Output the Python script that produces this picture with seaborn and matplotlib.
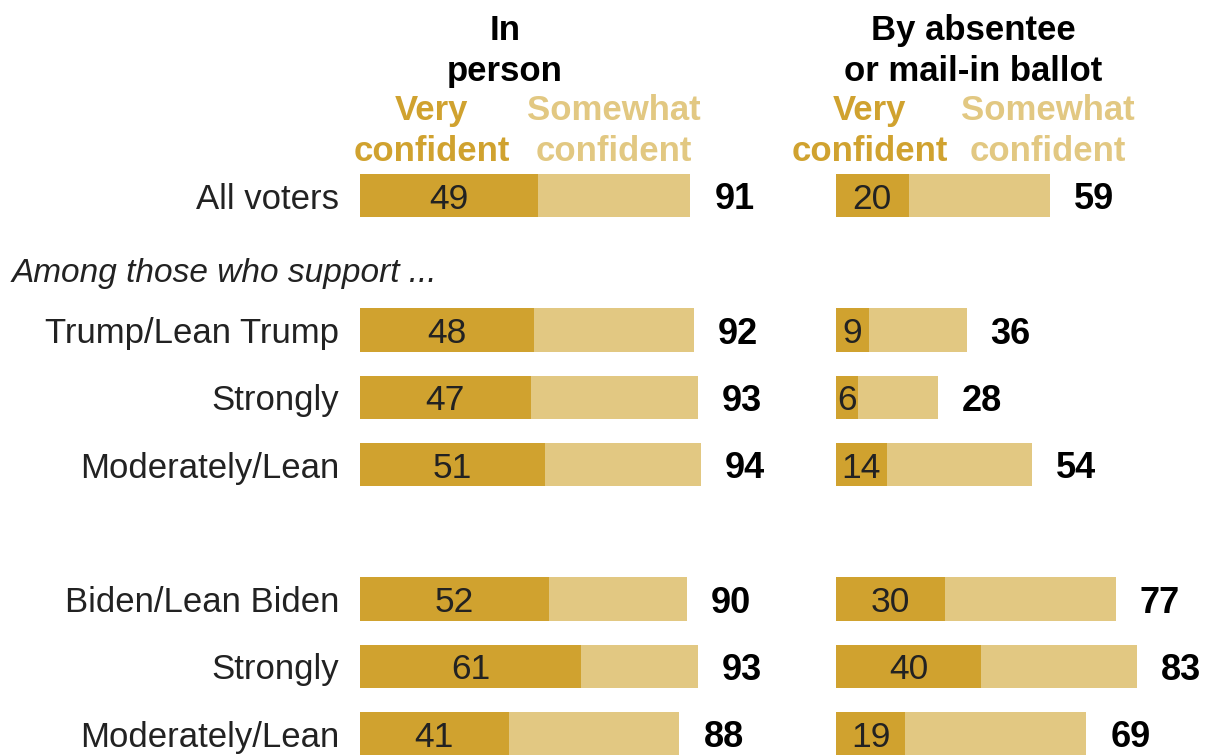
import matplotlib
matplotlib.use("Agg")
import matplotlib.pyplot as plt
import seaborn as sns
import pandas as pd
import numpy as np

# lignes du graphique (les lignes vides servent d'espacement)
rows = ["All voters", "_header", "Trump/Lean Trump", "Strongly (T)", "Moderately/Lean (T)",
        "_gap", "Biden/Lean Biden", "Strongly (B)", "Moderately/Lean (B)"]
row_labels = ["All voters", "", "Trump/Lean Trump", "Strongly", "Moderately/Lean",
              "", "Biden/Lean Biden", "Strongly", "Moderately/Lean"]

# En personne
inperson_very = [49, np.nan, 48, 47, 51, np.nan, 52, 61, 41]
inperson_total = [91, np.nan, 92, 93, 94, np.nan, 90, 93, 88]
# Par correspondance
mail_very = [20, np.nan, 9, 6, 14, np.nan, 30, 40, 19]
mail_total = [59, np.nan, 36, 28, 54, np.nan, 77, 83, 69]

DARK = "#D0A22F"
LIGHT = "#E2C882"

sns.set_style("white")
plt.rcParams['font.family'] = ['Liberation Sans', 'DejaVu Sans']

W, H = 1213, 755
fig = plt.figure(figsize=(W / 100, H / 100), dpi=100)

px_per_unit = 3.63
ax_top = 162
ax_h = 9 * 67.25


def make_ax(x0):
    return fig.add_axes([x0 / W, 1 - (ax_top + ax_h) / H, 100 * px_per_unit / W, ax_h / H])


ax1 = make_ax(360)
ax2 = make_ax(836)

for ax, very, total in [(ax1, inperson_very, inperson_total), (ax2, mail_very, mail_total)]:
    df = pd.DataFrame({"row": rows, "very": very, "total": total})
    sns.barplot(data=df, x="total", y="row", order=rows, color=LIGHT, width=0.65,
                ax=ax, errorbar=None, saturation=1, linewidth=0)
    sns.barplot(data=df, x="very", y="row", order=rows, color=DARK, width=0.65,
                ax=ax, errorbar=None, saturation=1, linewidth=0)
    for i, (v, t) in enumerate(zip(very, total)):
        if np.isnan(v):
            continue
        ax.text(v / 2, i, f"{int(v)}", ha="center", va="center_baseline", fontsize=25.5,
                color="#222222")
        ax.text(t + 6.6, i, f"{int(t)}", ha="left", va="center_baseline", fontsize=26,
                fontweight="bold", color="black")
    ax.set_xlim(0, 100)
    ax.set_ylim(8.5, -0.5)
    ax.set_xlabel("")
    ax.set_ylabel("")
    ax.set_xticks([])
    sns.despine(ax=ax, left=True, bottom=True)

ax1.set_yticks(range(len(rows)))
ax1.set_yticklabels(row_labels, fontsize=25, color="#222222", va="center_baseline")
ax1.tick_params(axis="y", length=0, pad=15)
ax2.set_yticks([])

# texte hors axes
fig.text(12 / W, 1 - 270 / H, "Among those who support ...", fontsize=24, style="italic",
         ha="left", va="center_baseline", color="#222222")

fig.text(505 / W, 1 - 51 / H, "In\nperson", ha="center", va="center", fontsize=25,
         fontweight="bold", linespacing=1.3, color="black")
fig.text(973 / W, 1 - 51 / H, "By absentee\nor mail-in ballot", ha="center", va="center",
         fontsize=25, fontweight="bold", linespacing=1.3, color="black")

for cx, col, lab in [(432, DARK, "Very\nconfident"), (614, LIGHT, "Somewhat\nconfident"),
                     (870, DARK, "Very\nconfident"), (1048, LIGHT, "Somewhat\nconfident")]:
    fig.text(cx / W, 1 - 131 / H, lab, ha="center", va="center", fontsize=25,
             fontweight="bold", color=col, linespacing=1.3)

fig.savefig("out.png", dpi=100)
